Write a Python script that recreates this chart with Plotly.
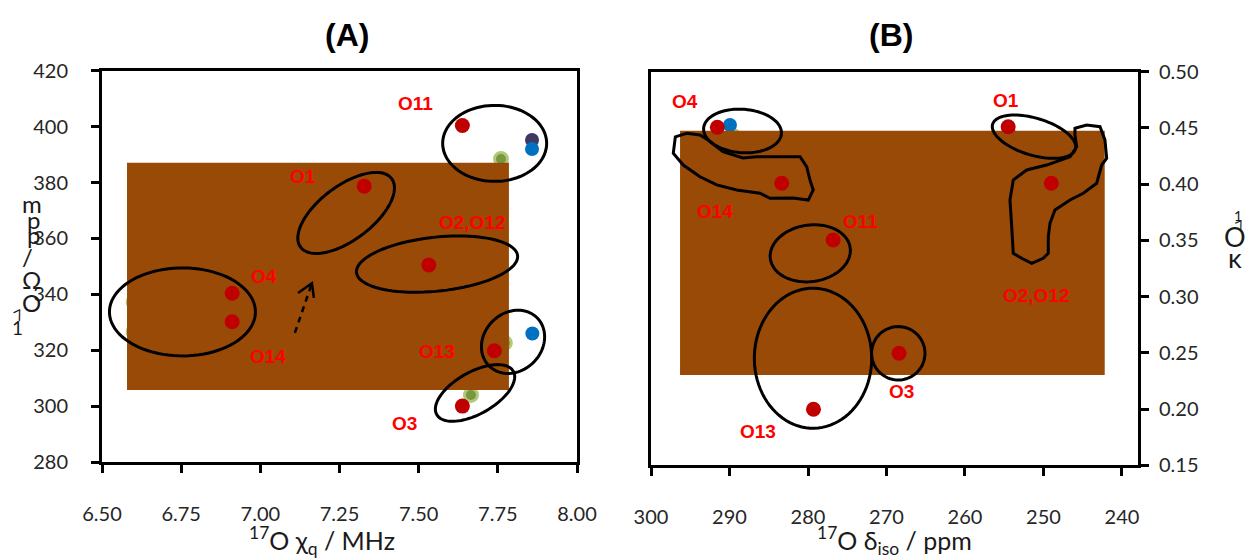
import numpy as np
import plotly.graph_objects as go

W, H = 1249, 558

# ---------------- Panel A data ----------------
a_xticks = [6.50, 6.75, 7.00, 7.25, 7.50, 7.75, 8.00]
a_yticks = [280, 300, 320, 340, 360, 380, 400, 420]
a_red_x = [7.638, 7.328, 7.532, 6.911, 6.911, 7.739, 7.638]
a_red_y = [400.4, 378.7, 350.5, 340.4, 330.2, 319.8, 300.0]
a_green_x = [7.760, 7.772, 7.665, 6.600, 6.600]
a_green_y = [388.4, 322.6, 304.0, 337.2, 326.5]
a_blue_x = [7.858, 7.859]
a_blue_y = [392.0, 326.0]
a_purple_x = [7.858]
a_purple_y = [395.2]
a_rect_x = [6.579, 7.785]
a_rect_y = [305.8, 387.1]
a_labels = ["O11", "O1", "O2,O12", "O4", "O14", "O13", "O3"]
a_label_x = [7.491, 7.135, 7.670, 7.013, 7.024, 7.559, 7.454]
a_label_y = [408.1, 382.3, 365.7, 346.5, 317.9, 319.5, 293.6]
# outlines: centre (data), semi-axes (screen px), tilt (deg)
a_ell_cx = [7.740, 7.271, 7.558, 6.754, 7.798, 7.678]
a_ell_cy = [394.0, 369.1, 350.8, 333.7, 323.0, 304.7]
a_ell_a = [52, 57, 81, 73, 34, 44]
a_ell_b = [38, 27, 27, 44, 29, 21]
a_ell_t = [0, 37, 6, 0, 45, 29.5]
a_arrow_x = [7.109, 7.163]
a_arrow_y = [326.2, 344.0]
a_head_x = [7.119, 7.163, 7.169]
a_head_y = [340.5, 344.0, 338.7]

# ---------------- Panel B data ----------------
b_xticks = [300, 290, 280, 270, 260, 250, 240]
b_yticks = [0.15, 0.20, 0.25, 0.30, 0.35, 0.40, 0.45, 0.50]
b_red_x = [291.55, 283.35, 254.5, 249.0, 276.8, 268.4, 279.3]
b_red_y = [0.4506, 0.4008, 0.4511, 0.4008, 0.3503, 0.2496, 0.1998]
b_green_x = [289.55]
b_green_y = [0.4428]
b_blue_x = [289.94, 254.27]
b_blue_y = [0.4526, 0.4437]
b_rect_x = [296.3, 242.2]
b_rect_y = [0.2303, 0.4475]
b_labels = ["O4", "O14", "O1", "O2,O12", "O11", "O3", "O13"]
b_label_x = [295.73, 291.85, 254.78, 250.87, 273.25, 268.15, 286.37]
b_label_y = [0.4733, 0.3761, 0.4748, 0.3014, 0.3672, 0.2155, 0.1805]
b_ell_cx = [288.34, 251.21, 279.71, 279.36, 268.50]
b_ell_cy = [0.4473, 0.4422, 0.3385, 0.2452, 0.2496]
b_ell_a = [39, 43.2, 40.3, 58.7, 26.7]
b_ell_b = [21.7, 18.5, 28.3, 70, 26.7]
b_ell_t = [-4, -16.8, 8, 0, 0]
b_o14_x = [296.9, 295.45, 293.76, 292.74, 290.83, 288.28, 286.54, 283.99, 281.02, 280.17,
           279.75, 279.33, 279.96, 281.91, 284.84, 286.11, 289.08, 291.63, 293.76, 295.89, 297.16]
b_o14_y = [0.442, 0.4452, 0.4437, 0.4393, 0.4289, 0.4233, 0.4244, 0.4244, 0.4244, 0.4155,
           0.4037, 0.3948, 0.3859, 0.3877, 0.3874, 0.3919, 0.3948, 0.3993, 0.4066, 0.4170, 0.4274]
b_o2_x = [245.99, 244.50, 242.80, 242.17, 241.95, 242.59, 243.22, 244.93, 246.62, 248.54, 249.17,
          249.39, 249.39, 250.03, 251.50, 252.78, 253.85, 254.05, 254.27, 253.85, 252.14, 249.59,
          246.62, 245.77, 245.99]
b_o2_y = [0.4497, 0.4526, 0.4511, 0.4393, 0.4230, 0.4170, 0.4008, 0.3919, 0.3859, 0.3770, 0.3652,
          0.3533, 0.3385, 0.3341, 0.3296, 0.3341, 0.3385, 0.3622, 0.3859, 0.4037, 0.4126, 0.4170,
          0.4244, 0.4333, 0.4437]

# ---------------- layout geometry ----------------
XA_DOM = [102 / W, 577 / W]
YA_DOM = [1 - 462 / H, 1 - 70.7 / H]
XA_RNG = [6.5, 8.0]
YA_RNG = [280, 420]
XB_DOM = [651 / W, 1138 / W]
YB_DOM = [1 - 465.3 / H, 1 - 71.7 / H]
XB_RNG = [300, 237.96]
YB_RNG = [0.15, 0.50]

BROWN = "#984A06"
RED = "#C00000"
LABEL_RED = "#FF0000"
BLUE = "#0070C0"
PURPLE = "#3F3862"
TICK_FONT = dict(family="Lato, Open Sans, sans-serif", size=20, color="#262626")


def scale(dom, rng, total):
    return (dom[1] - dom[0]) * total / (rng[1] - rng[0])


kxa, kya = scale(XA_DOM, XA_RNG, W), scale(YA_DOM, YA_RNG, H)
kxb, kyb = scale(XB_DOM, XB_RNG, W), scale(YB_DOM, YB_RNG, H)


def ellipse_path(cx, cy, a, b, tilt, kx, ky):
    t = np.linspace(0, 2 * np.pi, 90)
    ex, ey = a * np.cos(t), b * np.sin(t)
    th = np.radians(tilt)
    dx = ex * np.cos(th) - ey * np.sin(th)
    dy = ex * np.sin(th) + ey * np.cos(th)
    xs, ys = cx + dx / kx, cy + dy / ky
    return "M " + " L ".join(f"{x:.5f},{y:.6f}" for x, y in zip(xs, ys)) + " Z"


def poly_path(xs, ys, close=True):
    p = "M " + " L ".join(f"{x},{y}" for x, y in zip(xs, ys))
    return p + (" Z" if close else "")


fig = go.Figure()


def markers(x, y, color, xa, ya, size=15, line=None):
    fig.add_trace(go.Scatter(x=x, y=y, xaxis=xa, yaxis=ya, mode="markers",
                             marker=dict(color=color, size=size,
                                         line=line or dict(width=0)),
                             hoverinfo="skip", showlegend=False))


def rect(xr, yr, xa, ya):
    fig.add_trace(go.Scatter(x=[xr[0], xr[1], xr[1], xr[0], xr[0]],
                             y=[yr[0], yr[0], yr[1], yr[1], yr[0]],
                             xaxis=xa, yaxis=ya, mode="lines", fill="toself",
                             fillcolor=BROWN, line=dict(width=0),
                             hoverinfo="skip", showlegend=False))


green_line = dict(color="#AFC97A", width=3)
# Panel A
markers(a_green_x, a_green_y, "#78973F", "x", "y", 13, green_line)
markers(a_purple_x, a_purple_y, PURPLE, "x", "y", 14)
markers(a_blue_x, a_blue_y, BLUE, "x", "y", 14)
rect(a_rect_x, a_rect_y, "x", "y")
markers(a_red_x, a_red_y, RED, "x", "y", 15)
# Panel B
markers(b_green_x, b_green_y, "#78973F", "x2", "y2", 13, green_line)
markers(b_blue_x, b_blue_y, BLUE, "x2", "y2", 14)
rect(b_rect_x, b_rect_y, "x2", "y2")
markers(b_red_x, b_red_y, RED, "x2", "y2", 15)

shapes = []
OUT = dict(color="black", width=3)
for cx, cy, a, b, t in zip(a_ell_cx, a_ell_cy, a_ell_a, a_ell_b, a_ell_t):
    shapes.append(dict(type="path", xref="x", yref="y",
                       path=ellipse_path(cx, cy, a, b, t, kxa, kya), line=OUT))
for cx, cy, a, b, t in zip(b_ell_cx, b_ell_cy, b_ell_a, b_ell_b, b_ell_t):
    shapes.append(dict(type="path", xref="x2", yref="y2",
                       path=ellipse_path(cx, cy, a, b, t, kxb, kyb), line=OUT))
shapes.append(dict(type="path", xref="x2", yref="y2", path=poly_path(b_o14_x, b_o14_y), line=OUT))
shapes.append(dict(type="path", xref="x2", yref="y2", path=poly_path(b_o2_x, b_o2_y), line=OUT))
shapes.append(dict(type="line", xref="x", yref="y", x0=a_arrow_x[0], y0=a_arrow_y[0],
                   x1=a_arrow_x[1], y1=a_arrow_y[1],
                   line=dict(color="black", width=2.5, dash="6px,5px")))
shapes.append(dict(type="path", xref="x", yref="y", path=poly_path(a_head_x, a_head_y, False),
                   line=dict(color="black", width=2.5)))

annotations = []
LBL_FONT = dict(family="Liberation Sans, Arial, sans-serif", size=19, color=LABEL_RED)
for t, x, y in zip(a_labels, a_label_x, a_label_y):
    annotations.append(dict(text=f"<b>{t}</b>", x=x, y=y, xref="x", yref="y",
                            xanchor="center", yanchor="middle",
                            showarrow=False, font=LBL_FONT))
for t, x, y in zip(b_labels, b_label_x, b_label_y):
    annotations.append(dict(text=f"<b>{t}</b>", x=x, y=y, xref="x2", yref="y2",
                            xanchor="center", yanchor="middle",
                            showarrow=False, font=LBL_FONT))


def ptext(text, px, py, size, family="Lato, Open Sans, sans-serif", angle=0, color="#1a1a1a"):
    annotations.append(dict(text=text, x=px / W, y=1 - py / H, xref="paper", yref="paper",
                            xanchor="center", yanchor="middle",
                            showarrow=False, textangle=angle,
                            font=dict(family=family, size=size, color=color)))


ptext("<b>(A)</b>", 347, 35, 32, "Liberation Sans, Arial, sans-serif", color="black")
ptext("<b>(B)</b>", 891, 35, 32, "Liberation Sans, Arial, sans-serif", color="black")
ptext("<sup>17</sup>O χ<sub>q</sub> / MHz", 322, 540, 25)
ptext("<sup>17</sup>O δ<sub>iso</sub> / ppm", 894, 540, 25)
# garbled stacked y titles as in the reference
for ch, px, py, sz, ang in [("m", 32, 203, 24, 0), ("p", 33, 220, 24, 0), ("p", 33, 234, 24, 0),
                            ("/", 27, 256, 24, 0), ("Ω", 32, 279, 24, 0), ("O", 31, 302, 24, 0),
                            ("7", 18, 315, 15, -25), ("1", 17, 327, 19, 0)]:
    ptext(ch, px, py, sz, angle=ang)
for ch, px, py, sz, ang in [("1", 1238, 215, 14, 0), ("O", 1235, 236, 27, 0),
                            ("7", 1240, 226, 14, -25), ("κ", 1235, 257, 27, 0)]:
    ptext(ch, px, py, sz, angle=ang)

axis_common = dict(showline=True, linecolor="black", linewidth=3, mirror=True,
                   ticks="outside", ticklen=8, tickwidth=3, tickcolor="black",
                   showgrid=False, zeroline=False, tickfont=TICK_FONT, automargin=False)

fig.update_layout(
    width=W, height=H, margin=dict(l=0, r=0, t=0, b=0, autoexpand=False),
    paper_bgcolor="white", plot_bgcolor="white", showlegend=False,
    xaxis=dict(domain=XA_DOM, range=XA_RNG, anchor="y", tickvals=a_xticks,
               ticktext=[f"{v:.2f}" for v in a_xticks], ticklabelstandoff=24, **axis_common),
    yaxis=dict(domain=YA_DOM, range=YA_RNG, anchor="x", tickvals=a_yticks,
               ticktext=[str(v) for v in a_yticks], ticklabelstandoff=19, **axis_common),
    xaxis2=dict(domain=XB_DOM, range=XB_RNG, anchor="y2", tickvals=b_xticks,
                ticktext=[str(v) for v in b_xticks], ticklabelstandoff=24, **axis_common),
    yaxis2=dict(domain=YB_DOM, range=YB_RNG, anchor="x2", side="right", tickvals=b_yticks,
                ticktext=[f"{v:.2f}" for v in b_yticks], ticklabelstandoff=6, **axis_common),
    shapes=shapes, annotations=annotations,
)

fig.write_html("out.html", config={"displayModeBar": False},
               post_script="document.body.style.margin='0';document.body.style.padding='0';")
